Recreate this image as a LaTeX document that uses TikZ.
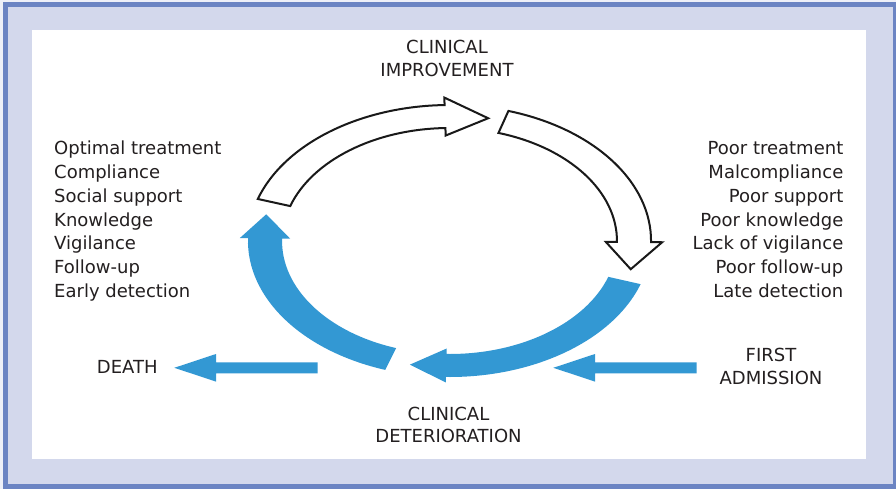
\documentclass[tikz,border=0pt]{standalone}
\usepackage{fontspec}
\setmainfont{DejaVu Sans}
\definecolor{framedark}{HTML}{6B84C3}
\definecolor{framelight}{HTML}{D3D8EC}
\definecolor{framepale}{HTML}{EEF0F8}
\definecolor{arrowblue}{HTML}{3398D3}
\definecolor{textgray}{HTML}{231F20}
% tail angle, head-base angle, outer barb radius, inner barb radius, tip angle, tip radius, style
\newcommand\RingArrow[7]{%
  \path[#7] (#1:136pt) arc[start angle=#1, end angle=#2, radius=136pt]
    -- (#2:#3pt) -- (#5:#6pt) -- (#2:#4pt) -- (#2:113pt)
    arc[start angle=#2, end angle=#1, radius=113pt] -- cycle;}
\begin{document}
\begin{tikzpicture}[x=1pt,y=-1pt,
  txt/.style={inner sep=0pt, text=textgray, font=\fontsize{18}{22}\selectfont},
  hollow/.style={draw=black!90, fill=white, line width=2pt, line join=miter},
  solidblue/.style={fill=arrowblue}]
\useasboundingbox (0,0) rectangle (896,489);
\fill[framepale] (0,0) rectangle (896,489);
\fill[framedark] (2.7,1.7) rectangle (896,489);
\fill[framelight] (8,7) rectangle (892.7,484);
\fill[white] (32,30) rectangle (866,458.5);

\begin{scope}[shift={(449.5pt,-241pt)}, xscale=1.482]
  \RingArrow{162}{91.4}{143.5}{105.5}{78}{125.5}{hollow}
  \RingArrow{73}{-0.5}{143.5}{105.5}{-13}{125.5}{hollow}
  \RingArrow{-18.5}{-91}{141.5}{107.5}{-102.2}{126.5}{solidblue}
  \RingArrow{-108.6}{-181.2}{141.5}{107.5}{-192.2}{126.5}{solidblue}
\end{scope}

% straight arrows
\fill[arrowblue] (317.7,362.3) -- (216,362.3) -- (216,354) -- (174.3,367.8)
  -- (216,381.6) -- (216,373.3) -- (317.7,373.3) -- cycle;
\fill[arrowblue] (696.7,362.3) -- (595,362.3) -- (595,354) -- (553.3,367.8)
  -- (595,381.6) -- (595,373.3) -- (696.7,373.3) -- cycle;

% titles
\node[txt, anchor=base] (imp1) at (447,53.3) {CLINICAL};
\node[txt, anchor=base] (imp2) at (447,76.8) {IMPROVEMENT};
\node[txt, anchor=base] (det1) at (448.5,420) {CLINICAL};
\node[txt, anchor=base] (det2) at (448.5,442.8) {DETERIORATION};
\node[txt, anchor=base west] (death) at (96.7,373.3) {DEATH};
\node[txt, anchor=base] (first1) at (771,361.7) {FIRST};
\node[txt, anchor=base] (first2) at (771,384.2) {ADMISSION};

% left list
\node[txt, anchor=base west] (l1) at (54,155) {Optimal treatment};
\node[txt, anchor=base west] (l2) at (54,178.7) {Compliance};
\node[txt, anchor=base west] (l3) at (54,202.4) {Social support};
\node[txt, anchor=base west] (l4) at (54,226.1) {Knowledge};
\node[txt, anchor=base west] (l5) at (54,249.8) {Vigilance};
\node[txt, anchor=base west] (l6) at (54,273.5) {Follow-up};
\node[txt, anchor=base west] (l7) at (54,297.2) {Early detection};

% right list
\node[txt, anchor=base east] (r1) at (843.5,155) {Poor treatment};
\node[txt, anchor=base east] (r2) at (843.5,178.7) {Malcompliance};
\node[txt, anchor=base east] (r3) at (843.5,202.4) {Poor support};
\node[txt, anchor=base east] (r4) at (843.5,226.1) {Poor knowledge};
\node[txt, anchor=base east] (r5) at (843.5,249.8) {Lack of vigilance};
\node[txt, anchor=base east] (r6) at (843.5,273.5) {Poor follow-up};
\node[txt, anchor=base east] (r7) at (843.5,297.2) {Late detection};
\end{tikzpicture}
\end{document}
